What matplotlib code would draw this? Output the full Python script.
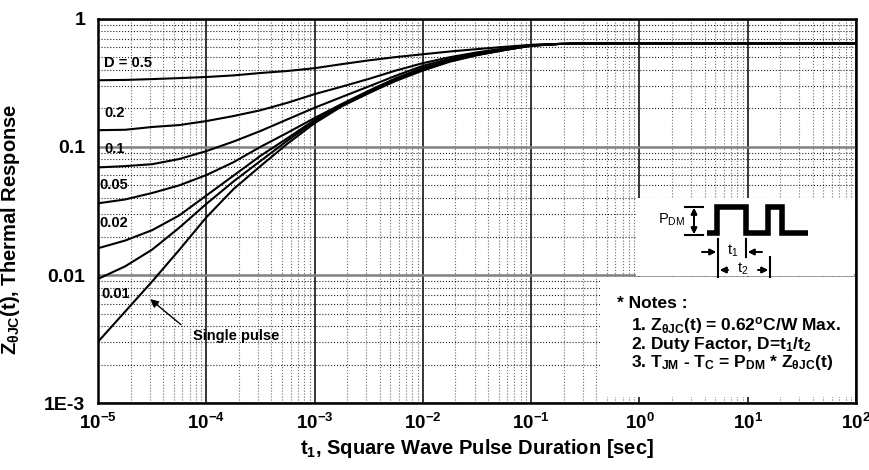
import matplotlib
matplotlib.use('Agg')
import matplotlib.pyplot as plt
from matplotlib.patches import Rectangle
from matplotlib.lines import Line2D
from matplotlib.ticker import FixedLocator, FixedFormatter, LogLocator, NullFormatter

plt.rcParams['font.family'] = ['Liberation Sans', 'DejaVu Sans']
plt.rcParams['font.weight'] = 'bold'
plt.rcParams['mathtext.fontset'] = 'custom'
plt.rcParams['mathtext.rm'] = 'Liberation Sans:bold'
plt.rcParams['mathtext.bf'] = 'Liberation Sans:bold'
plt.rcParams['mathtext.it'] = 'Liberation Sans:bold'
plt.rcParams['mathtext.sf'] = 'Liberation Sans:bold'

# pulse duration t1 [sec] (quarter decade steps)
t = [1e-5, 1.78e-5, 3.16e-5, 5.62e-5,
     1e-4, 1.78e-4, 3.16e-4, 5.62e-4,
     1e-3, 1.78e-3, 3.16e-3, 5.62e-3,
     1e-2, 1.78e-2, 3.16e-2, 5.62e-2,
     1e-1, 1.78e-1, 3.16e-1, 5.62e-1, 1e2]

# thermal response for each duty factor
z_d05 = [0.331, 0.333, 0.338, 0.344, 0.351, 0.361, 0.377, 0.391, 0.411, 0.442, 0.473,
         0.502, 0.528, 0.555, 0.579, 0.603, 0.625, 0.635, 0.641, 0.643, 0.643]
z_d02 = [0.135, 0.136, 0.143, 0.148, 0.159, 0.174, 0.193, 0.221, 0.258, 0.295, 0.339,
         0.394, 0.450, 0.501, 0.546, 0.586, 0.624, 0.635, 0.641, 0.643, 0.643]
z_d01 = [0.0692, 0.0708, 0.0733, 0.0804, 0.0927, 0.110, 0.133, 0.164, 0.202, 0.245, 0.296,
         0.359, 0.429, 0.486, 0.535, 0.578, 0.619, 0.635, 0.641, 0.643, 0.643]
z_d005 = [0.0363, 0.0389, 0.0437, 0.0501, 0.0603, 0.0759, 0.100, 0.129, 0.168, 0.216, 0.274,
          0.343, 0.414, 0.475, 0.527, 0.573, 0.617, 0.635, 0.641, 0.643, 0.643]
z_d002 = [0.0162, 0.0186, 0.0224, 0.0292, 0.0417, 0.0596, 0.0851, 0.117, 0.162, 0.211, 0.268,
          0.339, 0.407, 0.471, 0.524, 0.570, 0.617, 0.635, 0.641, 0.643, 0.643]
z_d001 = [0.00933, 0.0117, 0.0158, 0.0234, 0.0359, 0.0537, 0.0776, 0.112, 0.158, 0.209, 0.263,
          0.335, 0.403, 0.468, 0.521, 0.569, 0.615, 0.635, 0.641, 0.643, 0.643]
z_single = [0.00302, 0.00519, 0.00891, 0.0157, 0.0282, 0.0468, 0.0708, 0.106, 0.153, 0.207, 0.263,
            0.327, 0.394, 0.462, 0.519, 0.569, 0.615, 0.635, 0.641, 0.643, 0.643]

curves = [z_d05, z_d02, z_d01, z_d005, z_d002, z_d001, z_single]

y_ticks = [1e-3, 1e-2, 1e-1, 1]
y_labels = ['1E-3', '0.01', '0.1', '1']
x_ticks = [1e-5, 1e-4, 1e-3, 1e-2, 1e-1, 1, 10, 100]
x_labels = [r'$\mathbf{10^{%d}}$' % e for e in range(-5, 3)]

W, H = 870, 470


def fp(x, y):
    # pixel position (from top left) -> figure fraction
    return (x / W, 1 - y / H)


fig = plt.figure(figsize=(8.7, 4.7), dpi=100)
ax = fig.add_axes([98 / W, 1 - 403.3 / H, 758 / W, 384.6 / H])

for z in curves:
    ax.plot(t, z, color='black', lw=1.5, zorder=2)

ax.set_xscale('log')
ax.set_yscale('log')
ax.set_xlim(1e-5, 1e2)
ax.set_ylim(1e-3, 1)

ax.xaxis.set_major_locator(FixedLocator(x_ticks))
ax.xaxis.set_major_formatter(FixedFormatter(x_labels))
ax.yaxis.set_major_locator(FixedLocator(y_ticks))
ax.yaxis.set_major_formatter(FixedFormatter(y_labels))
ax.xaxis.set_minor_locator(LogLocator(base=10, subs=range(2, 10), numticks=50))
ax.yaxis.set_minor_locator(LogLocator(base=10, subs=range(2, 10), numticks=50))
ax.xaxis.set_minor_formatter(NullFormatter())
ax.yaxis.set_minor_formatter(NullFormatter())
ax.tick_params(which='both', length=0)
ax.tick_params(axis='x', pad=7, labelsize=13.5)
ax.tick_params(axis='y', pad=9, labelsize=14)

ax.grid(which='major', axis='x', color='black', lw=1.1, ls='-')
ax.grid(which='major', axis='y', color='#808080', lw=1.8, ls='-')
ax.grid(which='minor', axis='x', color='#6f6f6f', lw=0.8, ls=':')
ax.grid(which='minor', axis='y', color='#222222', lw=0.8, ls=':')

for s in ax.spines.values():
    s.set_linewidth(1.8)

ax.set_xlabel(r'$\mathbf{t_1}$, Square Wave Pulse Duration [sec]', fontsize=14.5,
              fontweight='bold', labelpad=3)
ax.set_ylabel(r'$\mathbf{Z_{\theta JC}}$(t), Thermal Response', fontsize=14.5,
              fontweight='bold')
ax.yaxis.set_label_coords(-0.1, 0.453)

# duty factor labels
lab = dict(fontsize=10.5, fontweight='bold', va='center')
ax.text(1.14e-5, 0.454, 'D = 0.5', **lab)
ax.text(1.14e-5, 0.185, '0.2', **lab)
ax.text(1.14e-5, 0.097, '0.1', **lab)
ax.text(1.04e-5, 0.0508, '0.05', **lab)
ax.text(1.04e-5, 0.0257, '0.02', **lab)
ax.text(1.07e-5, 0.00706, '0.01', **lab)
ax.annotate('', xy=(2.9e-5, 0.0067), xytext=(6.1e-5, 0.00398),
            arrowprops=dict(arrowstyle='-|>', color='black', lw=1, mutation_scale=12))
ax.text(7.55e-5, 0.00332, 'Single pulse', **lab)

# white boxes for the notes
x0, y0 = fp(636, 276)
x1, y1 = fp(854, 198)
ax.add_patch(Rectangle((x0, y0), x1 - x0, y1 - y0, transform=fig.transFigure,
                       facecolor='white', edgecolor='none', zorder=2.2, clip_on=False))
x0, y0 = fp(600, 397)
x1, y1 = fp(854, 277)
ax.add_patch(Rectangle((x0, y0), x1 - x0, y1 - y0, transform=fig.transFigure,
                       facecolor='white', edgecolor='none', zorder=2.2, clip_on=False))

# square wave
wx = [707, 717, 717, 746, 746, 768, 768, 782, 782, 808]
wy = [233, 233, 207, 207, 233, 233, 207, 207, 233, 233]
fig.add_artist(Line2D([x / W for x in wx], [1 - y / H for y in wy], color='black',
                      lw=4, solid_joinstyle='miter', solid_capstyle='butt', zorder=3))


def seg(xa, ya, xb, yb, lw=1.5):
    fig.add_artist(Line2D([xa / W, xb / W], [1 - ya / H, 1 - yb / H], color='black',
                          lw=lw, zorder=3))


def arrow(xa, ya, xb, yb):
    fig.add_artist(plt.annotate('', xy=fp(xb, yb), xytext=fp(xa, ya),
                                xycoords='figure fraction', textcoords='figure fraction',
                                arrowprops=dict(arrowstyle='-|>', color='black', lw=1.2,
                                                mutation_scale=9, shrinkA=0, shrinkB=0)))


# P_DM marker
seg(685, 207, 703, 207, 1.5)
seg(685, 235, 703, 235, 1.5)
arrow(694, 221, 694, 208)
arrow(694, 221, 694, 234)
fig.text(*fp(658, 220), r'P$_{\mathregular{DM}}$', fontsize=10.5, fontweight='normal',
         va='center', ha='left')

# t1, t2 markers
seg(718, 239, 718, 277, 1.5)
seg(746, 239, 746, 257, 1.5)
seg(770, 257, 770, 277, 1.5)
arrow(702, 252, 716, 252)
arrow(762, 252, 748, 252)
arrow(728, 270, 720, 270)
arrow(758, 270, 768, 270)
fig.text(*fp(733, 251), r't$_{\mathregular{1}}$', fontsize=10.5, fontweight='normal',
         va='center', ha='center')
fig.text(*fp(743, 269), r't$_{\mathregular{2}}$', fontsize=10.5, fontweight='normal',
         va='center', ha='center')

note = dict(fontsize=12.5, fontweight='bold', va='center')
fig.text(*fp(617, 303), '* Notes :', **note)
fig.text(*fp(631, 325), r'1. Z$_{\mathbf{\theta JC}}$(t) = 0.62$^{\mathbf{o}}$C/W Max.', **note)
fig.text(*fp(631, 344), r'2. Duty Factor, D=t$_{\mathbf{1}}$/t$_{\mathbf{2}}$', **note)
fig.text(*fp(631, 363),
         r'3. T$_{\mathbf{JM}}$ - T$_{\mathbf{C}}$ = P$_{\mathbf{DM}}$ * Z$_{\mathbf{\theta JC}}$(t)',
         **note)

fig.savefig('out.png', dpi=100)
